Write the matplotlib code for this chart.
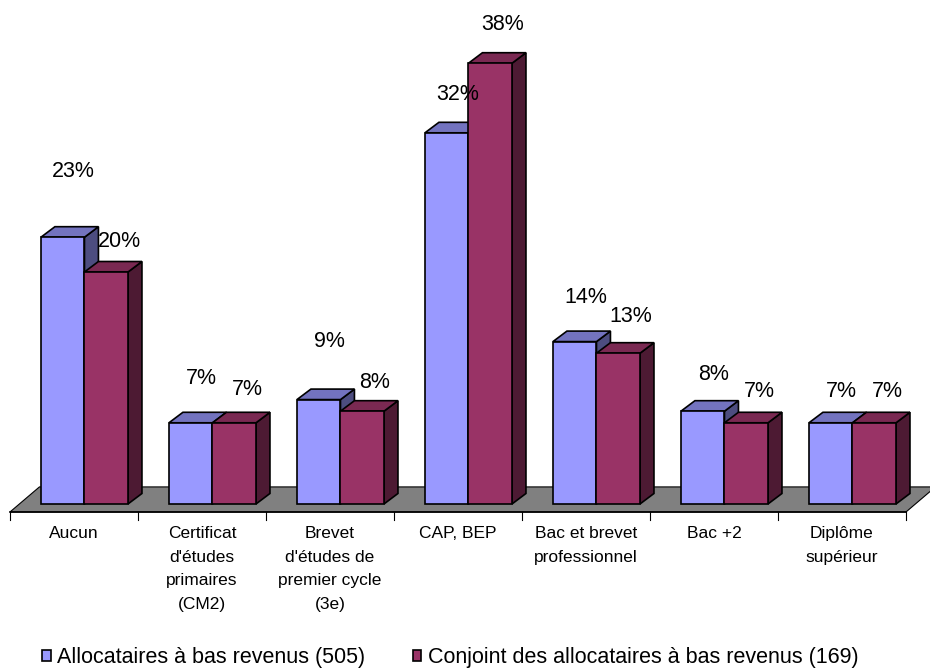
import numpy as np
import matplotlib
matplotlib.use('Agg')
import matplotlib.pyplot as plt
from matplotlib.patches import Polygon, Patch

# diplome, share of each population (%)
categories = ['Aucun', 'Certificat\nd\'études\nprimaires\n(CM2)', 'Brevet\nd\'études de\npremier cycle\n(3e)',
              'CAP, BEP', 'Bac et brevet\nprofessionnel', 'Bac +2', 'Diplôme\nsupérieur']
allocataires = [23, 7, 9, 32, 14, 8, 7]
conjoints = [20, 7, 8, 38, 13, 7, 7]
series_names = ['Allocataires à bas revenus (505)', 'Conjoint des allocataires à bas revenus (169)']

# how far above each bar Excel put its label (in % units)
lift_a = [5.7, 3.8, 5.0, 3.3, 3.8, 3.2, 2.7]
lift_b = [2.6, 2.9, 2.5, 3.3, 3.2, 2.7, 2.7]

plt.rcParams['font.family'] = ['Liberation Sans', 'DejaVu Sans']

fig = plt.figure(figsize=(9.3, 6.71), dpi=100)
ax = fig.add_axes([0, 0, 1, 1])
ax.set_xlim(-0.578, 6.6875)
ax.set_ylim(-14.4, 43.45)
ax.axis('off')

# faces: front, top, side
col_a = ('#9999ff', '#7373bf', '#4d4d80')
col_b = ('#993366', '#7a2952', '#4d1a33')
w = 0.34          # bar width (category units)
dx, dy = 0.109, 0.905   # depth offset

# floor
fl_front, fl_back = -0.69, 1.47
floor = Polygon([(-0.5, fl_front), (6.5, fl_front), (6.73, fl_back), (-0.27, fl_back)],
                closed=True, facecolor='#808080', edgecolor='black', lw=0.8, zorder=1)
ax.add_patch(floor)
ax.plot([-0.5, 6.5], [fl_front, fl_front], color='black', lw=1.2, zorder=2)
for i in range(len(categories) + 1):
  ax.plot([i - 0.5, i - 0.5], [fl_front, fl_front - 0.7], color='black', lw=0.8, zorder=2)


def bar3d(x0, h, cols, z):
  front = Polygon([(x0, 0), (x0 + w, 0), (x0 + w, h), (x0, h)], closed=True)
  top = Polygon([(x0, h), (x0 + w, h), (x0 + w + dx, h + dy), (x0 + dx, h + dy)], closed=True)
  side = Polygon([(x0 + w, 0), (x0 + w + dx, dy), (x0 + w + dx, h + dy), (x0 + w, h)], closed=True)
  for p, c in zip((side, top, front), (cols[2], cols[1], cols[0])):
    p.set_facecolor(c)
    p.set_edgecolor('black')
    p.set_linewidth(1.2)
    p.set_joinstyle('miter')
    p.set_zorder(z)
    ax.add_patch(p)


for i, (a, b) in enumerate(zip(allocataires, conjoints)):
  bar3d(i - 0.258, a, col_a, 3 + 2 * i)
  bar3d(i - 0.258 + w, b, col_b, 4 + 2 * i)
  ax.text(i - 0.258 + w / 2 + 0.085, a + lift_a[i], '%d%%' % a, ha='center', va='center',
          fontsize=15.5, zorder=30)
  ax.text(i - 0.258 + 1.5 * w + 0.1, b + lift_b[i], '%d%%' % b, ha='center', va='center',
          fontsize=15.5, zorder=30)
  ax.text(i, -1.9, categories[i], ha='center', va='top', fontsize=12.5, linespacing=1.72)

handles = [Patch(facecolor=col_a[0], edgecolor='black', lw=1.2),
           Patch(facecolor=col_b[0], edgecolor='black', lw=1.2)]
fig.legend(handles, series_names, loc='center', bbox_to_anchor=(0.484, 0.02), ncol=2,
           frameon=False, fontsize=15.5, handlelength=0.4, handleheight=0.4,
           handletextpad=0.3, columnspacing=2.2, borderpad=0)

fig.savefig('out.png', dpi=100)
